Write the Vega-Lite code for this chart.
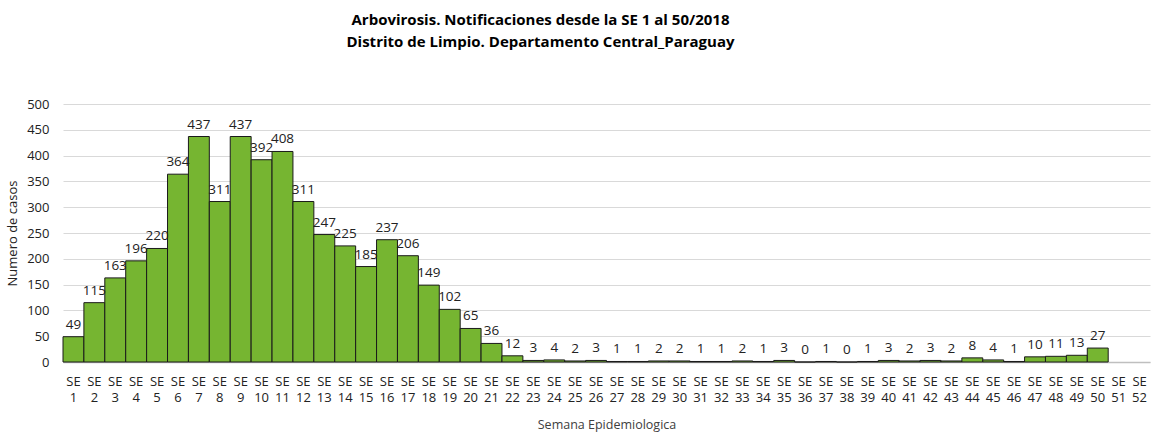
{
  "$schema": "https://vega.github.io/schema/vega-lite/v6.json",
  "autosize": {"type": "none"},
  "width": 1087,
  "height": 258,
  "padding": {"left": 63, "top": 104, "right": 2, "bottom": 71},
  "background": "white",
  "config": {"font": "Open Sans", "view": {"stroke": null}},
  "title": {
    "text": ["Arbovirosis. Notificaciones desde la SE 1 al 50/2018", "Distrito de Limpio. Departamento Central_Paraguay"],
    "fontSize": 15,
    "fontWeight": "bold",
    "color": "#000000",
    "anchor": "middle",
    "dx": -66,
    "lineHeight": 22,
    "offset": 48,
    "font": "Open Sans"
  },
  "data": {"values": [
    {"se": 1, "casos": 49}, {"se": 2, "casos": 115}, {"se": 3, "casos": 163}, {"se": 4, "casos": 196},
    {"se": 5, "casos": 220}, {"se": 6, "casos": 364}, {"se": 7, "casos": 437}, {"se": 8, "casos": 311},
    {"se": 9, "casos": 437}, {"se": 10, "casos": 392}, {"se": 11, "casos": 408}, {"se": 12, "casos": 311},
    {"se": 13, "casos": 247}, {"se": 14, "casos": 225}, {"se": 15, "casos": 185}, {"se": 16, "casos": 237},
    {"se": 17, "casos": 206}, {"se": 18, "casos": 149}, {"se": 19, "casos": 102}, {"se": 20, "casos": 65},
    {"se": 21, "casos": 36}, {"se": 22, "casos": 12}, {"se": 23, "casos": 3}, {"se": 24, "casos": 4},
    {"se": 25, "casos": 2}, {"se": 26, "casos": 3}, {"se": 27, "casos": 1}, {"se": 28, "casos": 1},
    {"se": 29, "casos": 2}, {"se": 30, "casos": 2}, {"se": 31, "casos": 1}, {"se": 32, "casos": 1},
    {"se": 33, "casos": 2}, {"se": 34, "casos": 1}, {"se": 35, "casos": 3}, {"se": 36, "casos": 0},
    {"se": 37, "casos": 1}, {"se": 38, "casos": 0}, {"se": 39, "casos": 1}, {"se": 40, "casos": 3},
    {"se": 41, "casos": 2}, {"se": 42, "casos": 3}, {"se": 43, "casos": 2}, {"se": 44, "casos": 8},
    {"se": 45, "casos": 4}, {"se": 46, "casos": 1}, {"se": 47, "casos": 10}, {"se": 48, "casos": 11},
    {"se": 49, "casos": 13}, {"se": 50, "casos": 27}
  ]},
  "encoding": {
    "x": {
      "field": "se",
      "type": "ordinal",
      "scale": {"domain": [1,2,3,4,5,6,7,8,9,10,11,12,13,14,15,16,17,18,19,20,21,22,23,24,25,26,27,28,29,30,31,32,33,34,35,36,37,38,39,40,41,42,43,44,45,46,47,48,49,50,51,52], "paddingInner": 0, "paddingOuter": 0},
      "axis": {
        "title": "Semana Epidemiologica",
        "titleFontSize": 12.5,
        "titleFontWeight": "normal",
        "titleColor": "#404040",
        "titlePadding": 14,
        "labelAngle": 0,
        "labelExpr": "['SE', datum.value]",
        "labelFontSize": 13,
        "labelLineHeight": 16,
        "labelColor": "#222222",
        "labelPadding": 13,
        "ticks": false,
        "domainColor": "#bfbfbf",
        "domainWidth": 1.5,
        "grid": false
      }
    },
    "y": {
      "field": "casos",
      "type": "quantitative",
      "scale": {"domain": [0, 500], "nice": false},
      "axis": {
        "title": "Numero de casos",
        "titleFontSize": 13,
        "titleFontWeight": "normal",
        "titleColor": "#222222",
        "titlePadding": 7,
        "values": [0,50,100,150,200,250,300,350,400,450,500],
        "labelFontSize": 13,
        "labelColor": "#222222",
        "labelPadding": 14,
        "ticks": false,
        "domain": false,
        "gridColor": "#d9d9d9",
        "gridWidth": 1
      }
    }
  },
  "layer": [
    {
      "mark": {"type": "bar", "color": "#76b531", "stroke": "#1a1a1a", "strokeWidth": 1}
    },
    {
      "mark": {"type": "text", "dy": -12, "fontSize": 13.5, "color": "#222222", "font": "Open Sans"},
      "encoding": {"text": {"field": "casos", "type": "quantitative"}}
    }
  ]
}
